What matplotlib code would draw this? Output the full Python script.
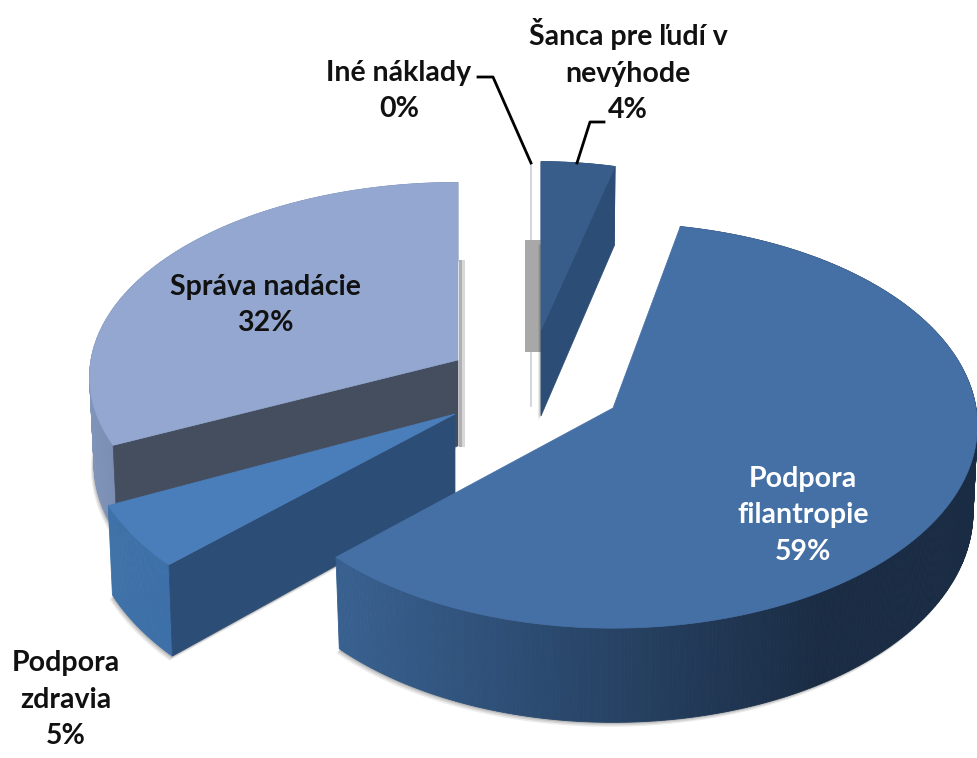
import numpy as np
import matplotlib
matplotlib.use('Agg')
import matplotlib.pyplot as plt
from matplotlib.patches import Polygon
from matplotlib.colors import to_rgb

# data, clockwise from 12 o'clock
names = ['Šanca pre ľudí v\nnevýhode', 'Podpora\nfilantropie', 'Podpora\nzdravia', 'Správa nadácie', 'Iné náklady']
values = [4, 59, 5, 32, 0]
order = [0, 1, 2, 3]

W, H = 977, 758
K = 0.087      # perspective
DEPTH = 86

plt.rcParams['font.family'] = ['Lato', 'Open Sans', 'DejaVu Sans']

fig = plt.figure(figsize=[W / 100, H / 100], dpi=100)
ax = fig.add_axes([0, 0, 1, 1])
ax.set_xlim(0, W)
ax.set_ylim(H, 0)
ax.axis('off')


def project(theta, cx, cy, rx, ry, down=0.0):
    # theta in degrees, clockwise from the top
    t = np.radians(theta)
    u = np.sin(t)
    v = -np.cos(t)
    s = 1 / (1 - K * v)
    x = cx + rx * u * s * (1 - 0.012 * (down > 0))
    y = cy + ry * v * s + down * s
    return x, y


def blend(c1, c2, f):
    a, b = np.array(to_rgb(c1)), np.array(to_rgb(c2))
    return tuple(a + (b - a) * f)


def shadow(xs, ys, z, dx=-2, dy=3):
    for i, alpha in enumerate([0.10, 0.14, 0.18]):
        off = 3 - i
        ax.add_patch(Polygon(np.c_[xs + dx * off / 2, ys + dy * off / 2], closed=True,
                             fc='#404040', ec='none', alpha=alpha, zorder=z))


def side(a0, a1, geo, stops, z):
    # outer wall, one thin strip per step so the colour can run along it
    ang = np.linspace(a0, a1, int(abs(a1 - a0) * 2) + 2)
    xt, yt = project(ang, *geo)
    xb, yb = project(ang, *geo, down=DEPTH)
    xmin, xmax = stops['range']
    for i in range(len(ang) - 1):
        f = np.clip(((xt[i] + xt[i + 1]) / 2 - xmin) / (xmax - xmin), 0, 1)
        col = blend(stops['c'][0], stops['c'][1], f)
        pts = [(xt[i], yt[i]), (xt[i + 1], yt[i + 1]), (xb[i + 1], yb[i + 1]), (xb[i], yb[i])]
        ax.add_patch(Polygon(pts, closed=True, fc=col, ec=col, lw=0.6, zorder=z))


def top_face(a0, a1, geo, color, z):
    ang = np.linspace(a0, a1, int(abs(a1 - a0) * 2) + 2)
    xt, yt = project(ang, *geo)
    pts = np.r_[[(geo[0], geo[1])], np.c_[xt, yt]]
    ax.add_patch(Polygon(pts, closed=True, fc=color, ec=color, lw=0.5, zorder=z))


def cut_face(a, geo, color, z):
    xt, yt = project(a, *geo)
    xb, yb = project(a, *geo, down=DEPTH)
    pts = [(geo[0], geo[1]), (xt, yt), (xb, yb), (geo[0], geo[1] + DEPTH)]
    ax.add_patch(Polygon(pts, closed=True, fc=color, ec=color, lw=0.5, zorder=z))


def silhouette(a0, a1, geo):
    ang = np.linspace(a0, a1, 120)
    xb, yb = project(ang, *geo, down=DEPTH)
    xs = np.r_[geo[0], xb]
    ys = np.r_[geo[1] + DEPTH, yb]
    return xs, ys


# layout of each exploded slice: cx, cy, rx, ry
geos = {0: (541, 330, 323, 183), 1: (613, 408, 363, 201), 2: (455, 414, 369, 207), 3: (458, 360, 367, 193)}
# drawn edges of the big slice sit a little off the true angle in the reference
shift = {1: (-2.8, -1.0)}
tops = {0: '#385d8a', 1: '#4570a6', 2: '#4a7ebb', 3: '#93a7d0'}
cuts = {0: '#2c4d75', 2: '#2c4d75', 3: '#454e5f'}
walls = {0: {'range': (541, 615), 'c': ('#2c4d75', '#2c4d75')},
         1: {'range': (345, 820), 'c': ('#38608f', '#1a2c44')},
         2: {'range': (107, 175), 'c': ('#3f72a8', '#3d6fa8')},
         3: {'range': (90, 115), 'c': ('#8093b8', '#7a8db2')}}
zs = {3: 2, 4: 3, 0: 4, 2: 5, 1: 6}

angles = np.cumsum([0] + values) * 3.6

# zero slice: only a hairline and the small grey block behind the next slice
ine = (531, 331, 323, 183)
x0, y0 = project(0, *ine)
ax.plot([x0, x0], [y0, ine[1] + 75], color='#c9cedb', lw=1.2, zorder=3)
ax.fill_between([525, 542], 240, 352, color='#a8a8a8', lw=0, zorder=3)

# soft grey edge right of the light slice
ax.fill_between([459, 462], 260, 447, color='#b0b0b0', lw=0, zorder=1)
ax.fill_between([462, 465], 260, 447, color='#d8d8d8', lw=0, zorder=1)

for i in order:
    a0, a1 = angles[i], angles[i + 1]
    g = geos[i]
    z = zs[i]
    d0, d1 = shift.get(i, (0, 0))
    a0, a1 = a0 + d0, a1 + d1
    xs, ys = silhouette(a0, a1, g)
    shadow(xs, ys, z - 0.5)
    side(a0, a1, g, walls[i], z)
    if i in cuts:
        # the cut that faces the viewer is on the lower end of the slice
        cut_face(a0 if i in (2, 3) else a1, g, cuts[i], z + 0.1)
    top_face(a0, a1, g, tops[i], z + 0.2)

# labels
label_pos = {0: (628, 71), 1: (803, 515), 2: (66, 700), 3: (265, 305), 4: (399, 91)}
colors = {1: 'white'}
for i in range(len(names)):
    x, y = label_pos[i]
    ax.text(x, y, f'{names[i]}\n{values[i]}%', ha='center', va='center', fontsize=20.5,
            fontweight='bold', color=colors.get(i, '#111111'), linespacing=1.5, zorder=10)

# leader lines
ax.plot([478, 493, 531], [77, 77, 163], color='black', lw=2, zorder=9)
ax.plot([604, 590, 577], [122, 122, 163], color='black', lw=2, zorder=9)

fig.savefig('out.png', dpi=100)
